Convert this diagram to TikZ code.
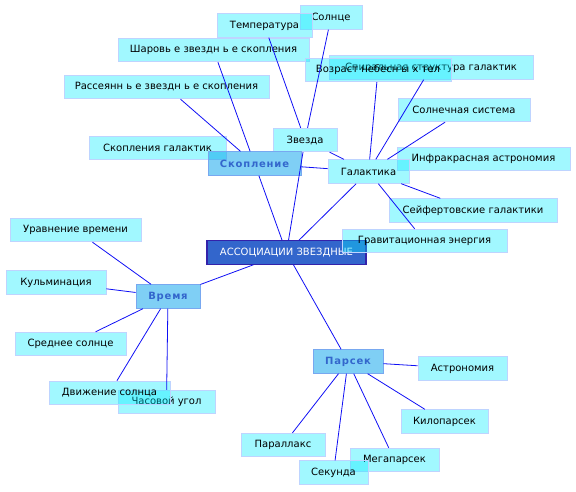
\documentclass[tikz,border=0pt]{standalone}
\usepackage{fontspec}
\setmainfont{DejaVu Sans}
\definecolor{leaffill}{RGB}{0,235,255}
\definecolor{leafline}{RGB}{190,212,255}
\definecolor{subfill}{RGB}{0,160,235}
\definecolor{subline}{RGB}{120,168,240}
\definecolor{subtext}{RGB}{51,102,204}
\definecolor{rootfill}{RGB}{51,102,204}
\definecolor{rootline}{RGB}{51,34,170}
\definecolor{linkcol}{RGB}{15,15,245}
\tikzset{
  anybox/.style={rectangle, inner sep=0pt, line width=0.9pt, minimum height=23.5pt, text opacity=1},
  leafbox/.style={anybox, draw=leafline, fill=leaffill, fill opacity=0.37, text=black},
  subbox/.style={anybox, draw=subline, fill=subfill, fill opacity=0.5, text=subtext,
    font=\bfseries\addfontfeature{LetterSpace=8}},
  rootbox/.style={anybox, draw=rootline, fill=rootfill, text=white, line width=1.1pt},
  link/.style={draw=linkcol, line width=0.8pt}
}
\begin{document}
\begin{tikzpicture}[x=1pt,y=-1pt]
\useasboundingbox (0,0) rectangle (576,491);

% root
\node[rootbox, minimum width=159] (assoc) at (286.5,252.5) {АССОЦИАЦИИ ЗВЕЗДНЫЕ};

% top branch
\node[leafbox, minimum width=62] (solnce) at (331,17.5) {Солнце};
\node[leafbox, minimum width=95] (temp) at (264.5,25.5) {Температура};
\node[leafbox, minimum width=191] (sharov) at (213.5,50) {Шаровь е звездн ь е скопления};
\node[leafbox, minimum width=204] (spiral) at (431,67.5) {Спиральная структура галактик};
\node[leafbox, minimum width=146] (vozrast) at (378,70) {Возраст небесн ы х тел};
\node[leafbox, minimum width=205] (rassey) at (166.5,87) {Рассеянн ь е звездн ь е скопления};
\node[leafbox, minimum width=132] (solsys) at (464,110) {Солнечная система};
\node[leafbox, minimum width=137] (skopgal) at (157.5,148) {Скопления галактик};
\node[leafbox, minimum width=64] (zvezda) at (305,140) {Звезда};
\node[leafbox, minimum width=173] (infra) at (483.5,159) {Инфракрасная астрономия};
\node[leafbox, minimum width=81] (galak) at (368.5,171.5) {Галактика};
\node[leafbox, minimum width=168] (seyf) at (473,210.5) {Сейфертовские галактики};
\node[leafbox, minimum width=165] (grav) at (424.5,241) {Гравитационная энергия};
\node[subbox, minimum width=93] (skop) at (254.5,163.5) {Скопление};

% left branch
\node[leafbox, minimum width=131] (urav) at (75.5,230) {Уравнение времени};
\node[leafbox, minimum width=100] (kulm) at (56,282.5) {Кульминация};
\node[leafbox, minimum width=111] (sredn) at (70.5,344) {Среднее солнце};
\node[leafbox, minimum width=97] (chas) at (166.5,402) {Часовой угол};
\node[leafbox, minimum width=121] (dvizh) at (109.5,393) {Движение солнца};
\node[subbox, minimum width=64] (vremya) at (168,296.5) {Время};

% bottom branch
\node[subbox, minimum width=70] (parsek) at (348,361.5) {Парсек};
\node[leafbox, minimum width=89] (astro) at (462.5,368.5) {Астрономия};
\node[leafbox, minimum width=87] (kilo) at (444.5,421.5) {Килопарсек};
\node[leafbox, minimum width=84] (parall) at (283,445) {Параллакс};
\node[leafbox, minimum width=89] (mega) at (394.5,460) {Мегапарсек};
\node[leafbox, minimum width=69] (sek) at (333.5,472.5) {Секунда};

% links
\draw[link] (assoc) -- (skop);
\draw[link] (assoc) -- (zvezda);
\draw[link] (assoc) -- (galak);
\draw[link] (assoc) -- (vremya);
\draw[link] (assoc) -- (parsek);

\draw[link] (skop) -- (sharov);
\draw[link] (skop) -- (rassey);
\draw[link] (skop) -- (galak);
\draw[link] (zvezda) -- (temp);
\draw[link] (zvezda) -- (solnce);
\draw[link] (zvezda) -- (galak);

\draw[link] (galak) -- (vozrast);
\draw[link] (galak) -- (spiral);
\draw[link] (galak) -- (solsys);
\draw[link] (galak) -- (seyf);
\draw[link] (galak) -- (grav);

\draw[link] (vremya) -- (urav);
\draw[link] (vremya) -- (kulm);
\draw[link] (vremya) -- (sredn);
\draw[link] (vremya) -- (dvizh);
\draw[link] (vremya) -- (chas);

\draw[link] (parsek) -- (astro);
\draw[link] (parsek) -- (kilo);
\draw[link] (parsek) -- (parall);
\draw[link] (parsek) -- (sek);
\draw[link] (parsek) -- (mega);
\end{tikzpicture}
\end{document}
